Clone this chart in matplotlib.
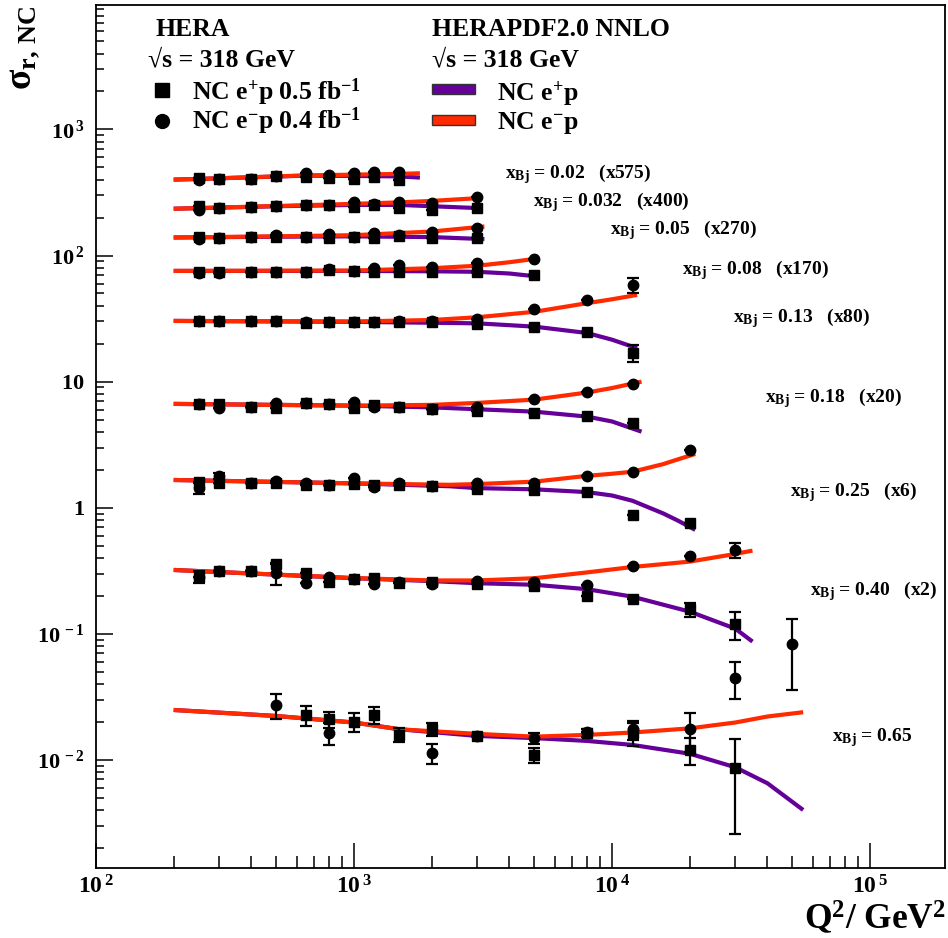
import numpy as np
import matplotlib
matplotlib.use('Agg')
import matplotlib.pyplot as plt
from matplotlib.lines import Line2D
from matplotlib.patches import Rectangle
from matplotlib.ticker import FixedLocator, FuncFormatter, LogLocator, NullFormatter

plt.rcParams['font.family'] = ['Liberation Serif', 'DejaVu Serif']
plt.rcParams['font.weight'] = 'bold'
plt.rcParams['mathtext.fontset'] = 'custom'
plt.rcParams['mathtext.rm'] = 'Liberation Serif:bold'
plt.rcParams['mathtext.it'] = 'Liberation Serif:bold'
plt.rcParams['mathtext.bf'] = 'Liberation Serif:bold'

nan = np.nan

# bins in x and the factor each bin is multiplied by
x_bins = ['0.02', '0.032', '0.05', '0.08', '0.13', '0.18', '0.25', '0.40', '0.65']
scales = ['575', '400', '270', '170', '80', '20', '6', '2', '']

# Q2 of the measured points
q2 = [250, 300, 400, 500, 650, 800, 1000, 1200, 1500, 2000, 3000, 5000, 8000, 12000, 20000, 30000, 50000]

# reduced cross section (already scaled), NC e+p
sig_ep = [
    [415, 404, 407, 424, 418, 410, 403, 418, 398, nan, nan, nan, nan, nan, nan, nan, nan],
    [245, 240, 242, 247, 252, 252, 242, 252, 237, 230, 240, nan, nan, nan, nan, nan, nan],
    [139, 137, 139, 140, 141, 137, 141, 137, 143, 137, 137, nan, nan, nan, nan, nan, nan],
    [74.5, 73.7, 73.7, 73.7, 73.7, 76.9, 75.5, 74.0, 74.5, 74.5, 73.5, 70.2, nan, nan, nan, nan, nan],
    [30.3, 30.0, 30.0, 30.3, 29.3, 29.5, 29.5, 29.5, 29.5, 29.7, 28.4, 27.3, 24.6, 17.0, nan, nan, nan],
    [6.66, 6.6, 6.34, 6.15, 6.74, 6.66, 6.22, 6.5, 6.27, 6.04, 5.9, 5.68, 5.38, 4.68, nan, nan, nan],
    [1.61, 1.56, 1.58, 1.58, 1.52, 1.52, 1.54, 1.52, 1.52, 1.49, 1.41, 1.39, 1.33, 0.88, 0.75, nan, nan],
    [0.284, 0.317, 0.317, 0.355, 0.302, 0.259, 0.271, 0.276, 0.255, 0.26, 0.25, 0.24, 0.2, 0.188, 0.157, 0.120, nan],
    [nan, nan, nan, nan, 0.0227, 0.0210, 0.0201, 0.0227, 0.0158, 0.0175, 0.0155, 0.0110, 0.0163, 0.0163, 0.0120, 0.0086, nan],
]

# NC e-p
sig_em = [
    [395, 404, 407, 424, 454, 439, 449, 462, 460, nan, nan, nan, nan, nan, nan, nan, nan],
    [230, 240, 242, 247, 252, 252, 268, 255, 268, 260, 293, nan, nan, nan, nan, nan, nan],
    [135, 137, 139, 146, 141, 148, 141, 152, 146, 155, 165, nan, nan, nan, nan, nan, nan],
    [72.5, 73.0, 73.7, 73.7, 73.7, 77.5, 75.5, 80.0, 84.6, 80.8, 86.9, 93.5, nan, nan, nan, nan, nan],
    [30.0, 30.0, 30.0, 30.3, 29.5, 29.7, 29.8, 29.8, 30.0, 30.0, 31.3, 37.7, 44.5, 58.5, nan, nan, nan],
    [6.6, 6.15, 6.34, 6.82, 6.74, 6.66, 6.87, 6.3, 6.27, 6.04, 6.3, 7.29, 8.33, 9.59, nan, nan, nan],
    [1.43, 1.79, 1.56, 1.62, 1.58, 1.52, 1.71, 1.47, 1.56, 1.49, 1.56, 1.56, 1.79, 1.91, 2.87, nan, nan],
    [0.28, 0.315, 0.315, 0.302, 0.255, 0.284, 0.271, 0.25, 0.26, 0.25, 0.262, 0.259, 0.244, 0.346, 0.415, 0.463, nan],
    [nan, nan, nan, 0.0273, nan, 0.0163, nan, nan, nan, 0.0113, 0.0155, 0.0149, 0.0168, 0.0175, 0.0175, 0.045, 0.083],
]

# the error bars that are bigger than the markers: (bin, Q2, error)
err_ep = [(4, 12000, 2.7), (7, 250, 0.03), (7, 20000, 0.02), (7, 30000, 0.03),
          (8, 650, 0.004), (8, 800, 0.003), (8, 1000, 0.0033), (8, 1200, 0.0035),
          (8, 1500, 0.002), (8, 2000, 0.002), (8, 5000, 0.0015), (8, 8000, 0.0012),
          (8, 12000, 0.0035), (8, 20000, 0.0029), (8, 30000, 0.006)]
err_em = [(4, 12000, 7.6), (6, 250, 0.15), (6, 300, 0.11), (7, 500, 0.06), (7, 30000, 0.065),
          (8, 500, 0.006), (8, 800, 0.0032), (8, 2000, 0.002), (8, 5000, 0.0015),
          (8, 12000, 0.003), (8, 20000, 0.006), (8, 30000, 0.0145), (8, 50000, 0.047)]

pdf_q2 = [
    [200, 250, 650, 1000, 1500, 1800],
    [200, 500, 1000, 1500, 2000, 3000],
    [200, 500, 1000, 2000, 3200],
    [200, 1000, 2000, 3000, 4000, 5200],
    [200, 1000, 2000, 3000, 5000, 8000, 10000, 12500],
    [200, 1000, 2000, 3000, 5000, 8000, 10000, 13000],
    [200, 1000, 2350, 3000, 5000, 8000, 10000, 12000, 15800, 18000, 21000],
    [200, 1000, 2000, 3000, 5000, 8000, 12000, 20000, 30000, 35000],
    [200, 500, 1000, 1500, 3000, 5000, 8000, 12000, 20000, 30000, 40000, 55000],
]
pdf_ep = [
    [400, 405, 430, 428, 424, 415],
    [235, 246, 252, 252, 246, 238],
    [139, 141, 142, 140, 135],
    [75.5, 75.5, 75, 74.3, 72, 68],
    [30.3, 29.8, 29.3, 29.0, 27.3, 24.3, 21.5, 18.4],
    [6.66, 6.45, 6.25, 6.04, 5.78, 5.28, 4.83, 4.01],
    [1.66, 1.56, 1.48, 1.43, 1.40, 1.33, 1.25, 1.135, 0.90, 0.79, 0.667],
    [0.321, 0.276, 0.262, 0.252, 0.245, 0.226, 0.197, 0.150, 0.110, 0.0868],
    [0.0249, 0.0223, 0.0198, 0.0175, 0.0155, 0.0149, 0.01415, 0.01315, 0.0112, 0.00875, 0.00653, 0.00401],
]
pdf_em = [
    [400, 405, 432, 438, 444, 449],
    [235, 247, 257, 264, 271, 285],
    [139, 142, 145, 155, 170],
    [75.5, 76, 79.3, 83, 88.5, 95],
    [30.3, 30.0, 30.8, 32.4, 35.8, 41.9, 45.0, 48.7],
    [6.66, 6.45, 6.54, 6.78, 7.2, 8.2, 8.9, 10.0],
    [1.66, 1.56, 1.52, 1.54, 1.61, 1.79, 1.86, 1.93, 2.22, 2.42, 2.67],
    [0.321, 0.277, 0.265, 0.265, 0.276, 0.307, 0.339, 0.374, 0.43, 0.457],
    [0.0249, 0.0223, 0.0198, 0.0175, 0.0161, 0.0153, 0.0158, 0.0165, 0.0178, 0.0198, 0.0221, 0.0239],
]

purple = '#650099'
red = '#ff2a00'
W, H = 948, 938

fig = plt.figure(figsize=(W / 100, H / 100), dpi=100)
ax = fig.add_axes([96 / W, 1 - 868 / H, 849 / W, 863 / H])

for i in range(len(x_bins)):
    ax.plot(pdf_q2[i], pdf_ep[i], color=purple, lw=3, solid_capstyle='butt', zorder=2)
    ax.plot(pdf_q2[i], pdf_em[i], color=red, lw=3, solid_capstyle='butt', zorder=3)

for sig, errs, mk in [(sig_ep, err_ep, 's'), (sig_em, err_em, 'o')]:
    for i in range(len(x_bins)):
        yerr = np.zeros(len(q2))
        for b, q, e in errs:
            if b == i:
                yerr[q2.index(q)] = e
        ax.errorbar(q2, sig[i], yerr=yerr, fmt=mk, ms=7.5, color='black', mec='black',
                    elinewidth=1.6, capsize=4, capthick=1.6, zorder=5)

ax.set_xscale('log')
ax.set_yscale('log')
ax.set_xlim(100, 1.95e5)
ax.set_ylim(1.39e-3, 9.7e3)


def exp_label(v, pos):
    n = int(round(np.log10(v)))
    if n == 0:
        return r'$\mathbf{1}$'
    if n == 1:
        return r'$\mathbf{10}$'
    return r'$\mathbf{10^{\,%d}}$' % n


ax.xaxis.set_major_locator(FixedLocator([1e2, 1e3, 1e4, 1e5]))
ax.yaxis.set_major_locator(FixedLocator([1e-2, 1e-1, 1, 10, 1e2, 1e3]))
ax.xaxis.set_major_formatter(FuncFormatter(exp_label))
ax.yaxis.set_major_formatter(FuncFormatter(exp_label))
ax.xaxis.set_minor_locator(LogLocator(subs=range(2, 10), numticks=20))
ax.yaxis.set_minor_locator(LogLocator(subs=range(2, 10), numticks=20))
ax.xaxis.set_minor_formatter(NullFormatter())
ax.yaxis.set_minor_formatter(NullFormatter())
ax.tick_params(axis='x', which='major', direction='in', length=18, width=1.1, pad=5, labelsize=17)
ax.tick_params(axis='x', which='minor', direction='in', length=9, width=1.1)
ax.tick_params(axis='y', which='major', direction='in', length=12, width=1.1, pad=8, labelsize=16)
ax.tick_params(axis='y', which='minor', direction='in', length=6, width=1.1)
for s in ax.spines.values():
    s.set_linewidth(1.3)

# bin labels
label_xy = [(505, 178), (533, 206), (610, 234), (682, 274), (733, 322),
            (765, 402), (790, 496), (810, 595), (832, 741)]
for i in range(len(x_bins)):
    txt = r'x$_{Bj}$ = ' + x_bins[i]
    if scales[i]:
        txt += '   (x' + scales[i] + ')'
    fig.text(label_xy[i][0] / W, 1 - label_xy[i][1] / H, txt, fontsize=14, ha='left', va='baseline')

# axis titles
fig.text(25 / W, 1 - 6 / H, r'$\sigma_{r,\,NC}$', rotation=90, fontsize=27, ha='center', va='top')
fig.text(946 / W, 0.5 / H, r'Q$^{2}$/ GeV$^{2}$', fontsize=25.5, ha='right', va='bottom')

# legend
fs = 18.5
fig.text(155 / W, 1 - 36 / H, 'HERA', fontsize=fs, va='baseline')
fig.text(148 / W, 1 - 66 / H, '√s = 318 GeV', fontsize=fs, va='baseline')
fig.text(192 / W, 1 - 100 / H, r'NC e$^{+}$p 0.5 fb$^{-1}$', fontsize=fs, va='baseline')
fig.text(192 / W, 1 - 129 / H, r'NC e$^{-}$p 0.4 fb$^{-1}$', fontsize=fs, va='baseline')
fig.add_artist(Line2D([162 / W], [1 - 90 / H], marker='s', ms=10, color='black', transform=fig.transFigure))
fig.add_artist(Line2D([162 / W], [1 - 121 / H], marker='o', ms=10, color='black', transform=fig.transFigure))

fig.text(432 / W, 1 - 36 / H, 'HERAPDF2.0 NNLO', fontsize=fs, va='baseline')
fig.text(432 / W, 1 - 66 / H, '√s = 318 GeV', fontsize=fs, va='baseline')
fig.text(497 / W, 1 - 100 / H, r'NC e$^{+}$p', fontsize=fs, va='baseline')
fig.text(497 / W, 1 - 129 / H, r'NC e$^{-}$p', fontsize=fs, va='baseline')
fig.add_artist(Rectangle((432 / W, 1 - 94 / H), 43 / W, 10 / H, facecolor=purple,
                         edgecolor='#333333', lw=1, transform=fig.transFigure))
fig.add_artist(Rectangle((432 / W, 1 - 125 / H), 43 / W, 10 / H, facecolor=red,
                         edgecolor='#333333', lw=1, transform=fig.transFigure))

fig.savefig('out.png', dpi=100)
